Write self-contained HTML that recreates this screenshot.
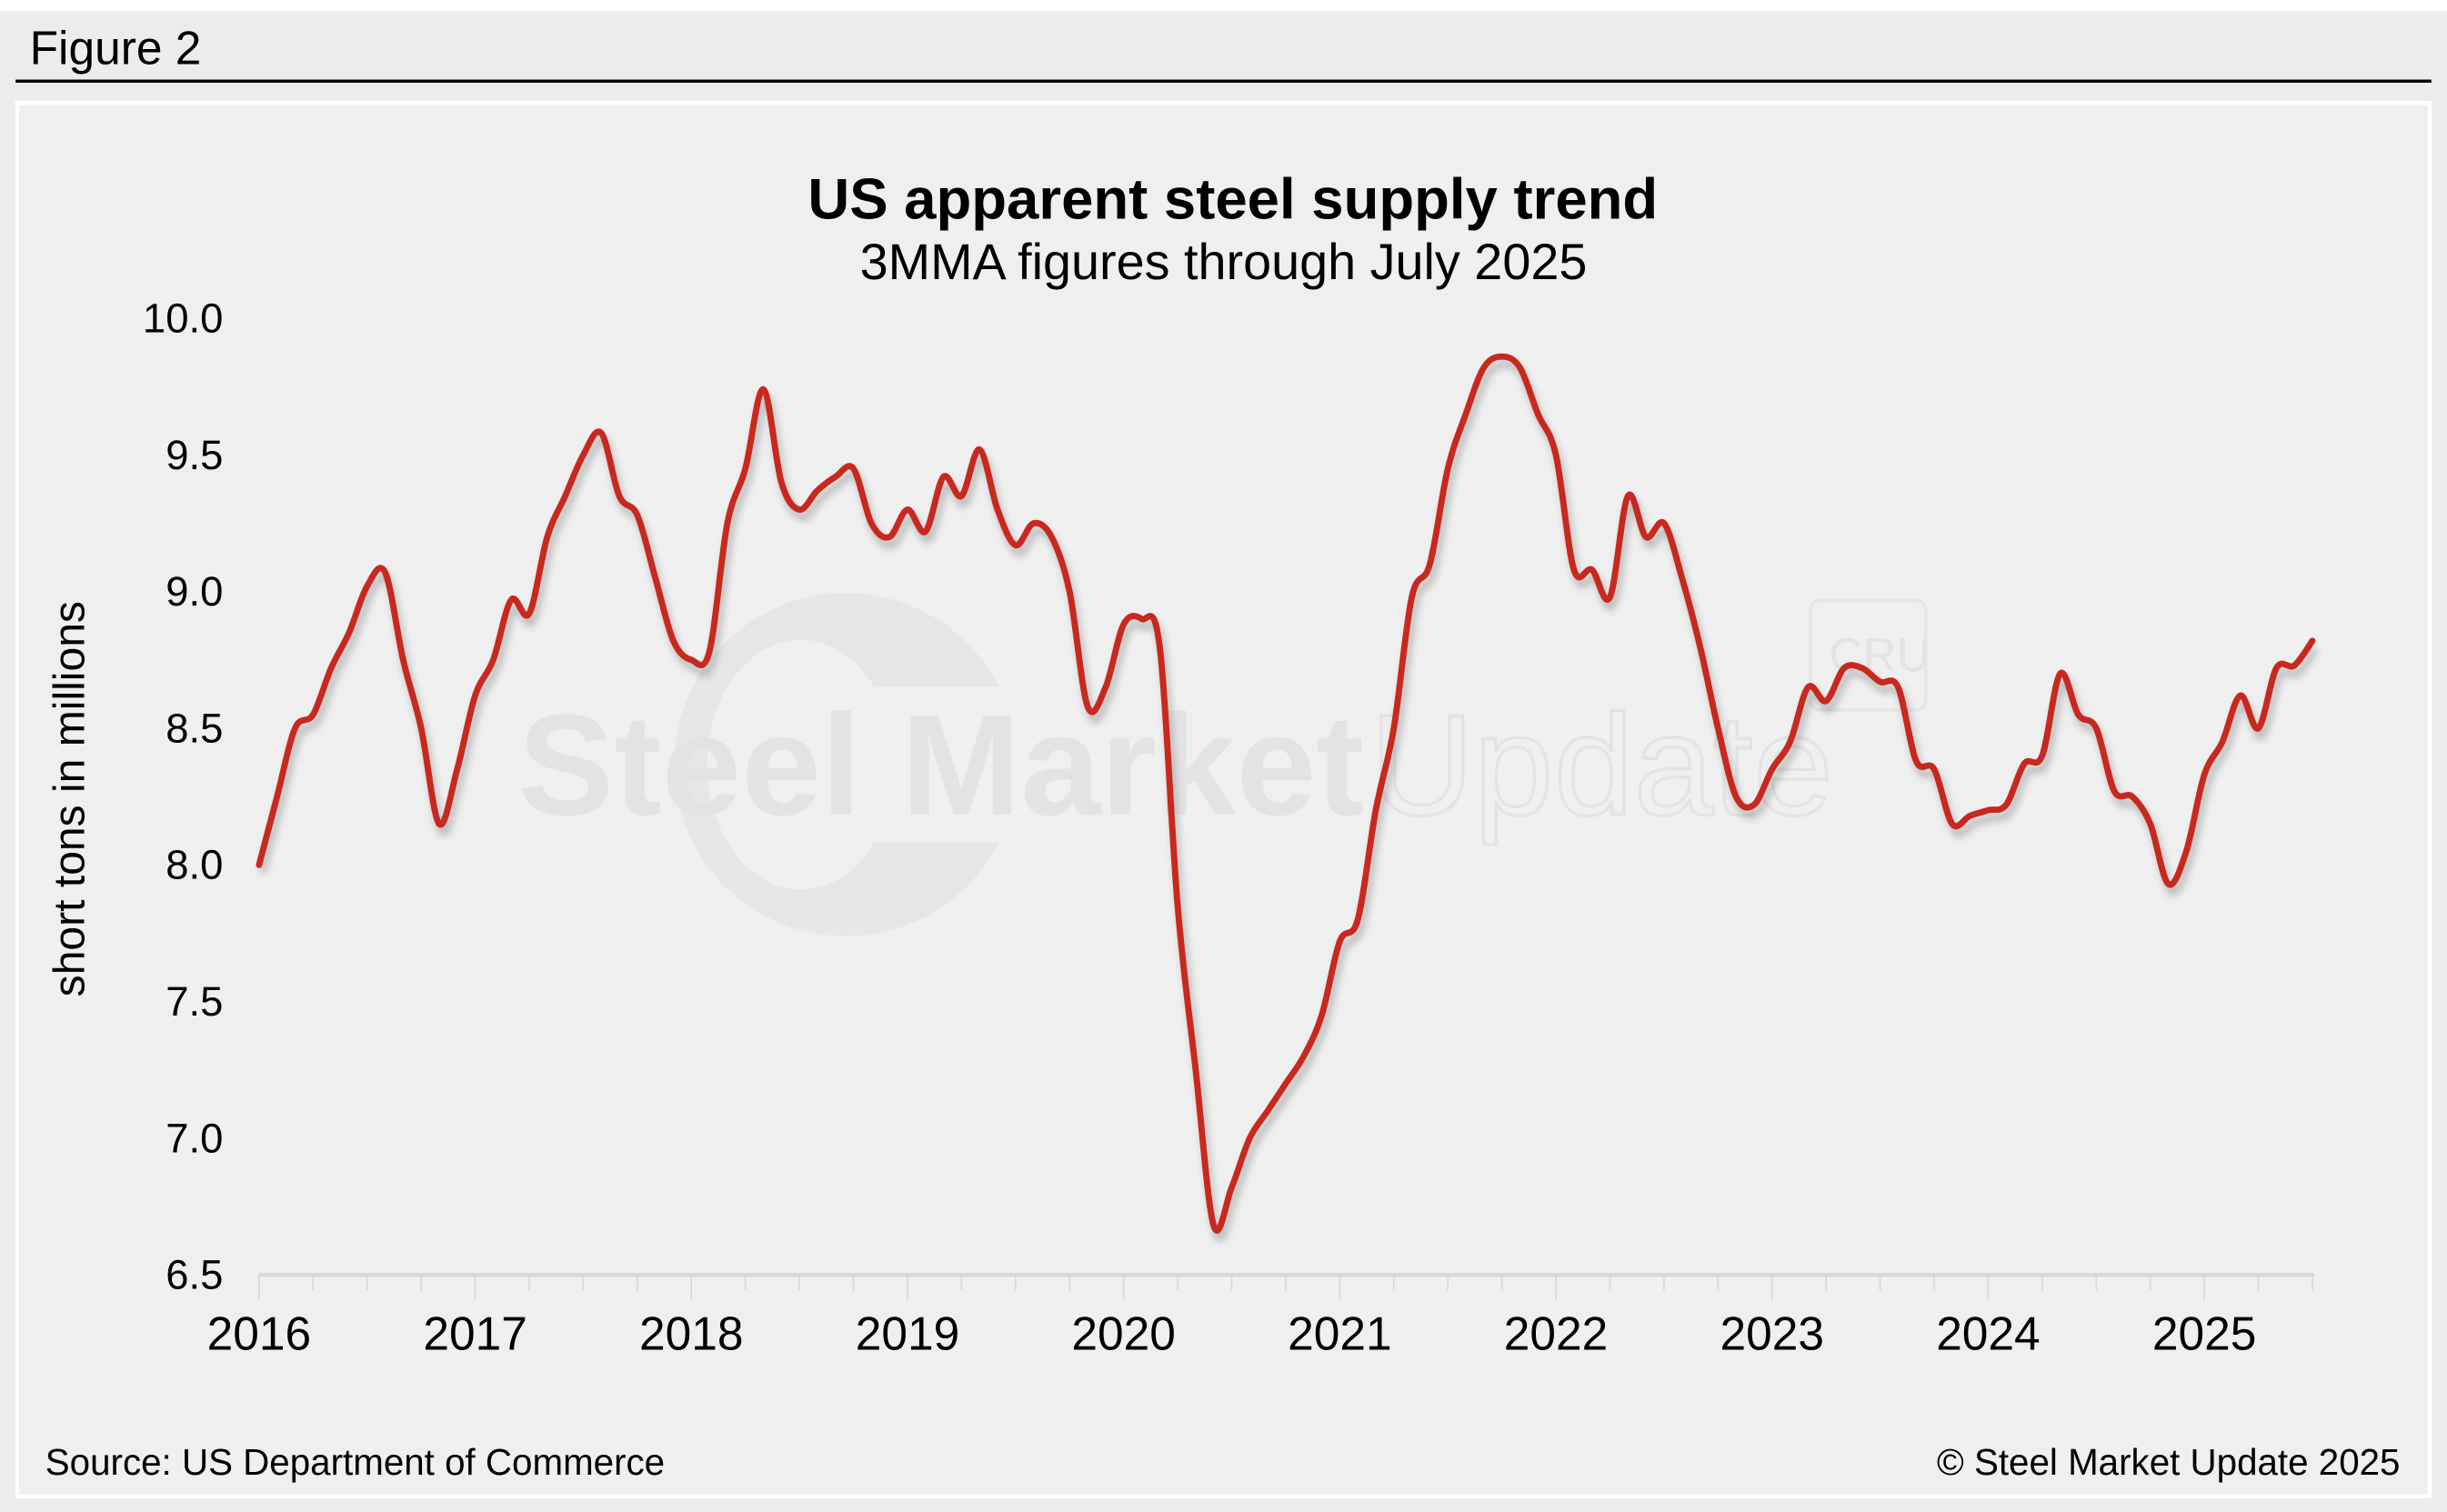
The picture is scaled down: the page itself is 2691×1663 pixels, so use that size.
<!DOCTYPE html>
<html><head><meta charset="utf-8"><style>
html,body{margin:0;padding:0;background:#fff;}
svg{display:block;}
text{font-family:"Liberation Sans",sans-serif;}
</style></head><body>
<svg id="chart" width="2691" height="1663" viewBox="0 0 1568 969" xmlns="http://www.w3.org/2000/svg">
<defs>
<filter id="sh" x="-5%" y="-5%" width="110%" height="115%"><feGaussianBlur stdDeviation="2.5"/></filter>
</defs>
<rect x="0" y="0" width="1568" height="969" fill="#fff"/>
<rect x="0" y="7" width="1568" height="962" fill="#ececec"/>
<text x="19" y="41" font-size="30" fill="#000">Figure 2</text>
<rect x="10" y="51" width="1548" height="2" fill="#000"/>
<rect x="11" y="66" width="1546" height="893" fill="#efefef" stroke="#fff" stroke-width="2.5"/>
<g opacity="0.9">
<path d="M640,440 A110,110 0 1 0 640,540 L560,540 A60,80 0 1 1 560,440 Z" fill="#e6e6e6"/>
<text x="332" y="522" font-size="92" font-weight="bold" fill="#e2e2e2">Steel Market</text>
<text x="878" y="522" font-size="92" fill="none" stroke="#e2e2e2" stroke-width="2">Update</text>
<rect x="1160" y="385" width="74" height="70" rx="6" fill="none" stroke="#e4e4e4" stroke-width="2"/>
<text x="1172" y="430" font-size="30" fill="#e2e2e2">CRU</text>
</g>
<text x="790" y="140" font-size="37" font-weight="bold" text-anchor="middle" fill="#000">US apparent steel supply trend</text>
<text x="784" y="179" font-size="32.5" text-anchor="middle" fill="#000">3MMA figures through July 2025</text>
<text transform="translate(54,512) rotate(-90)" font-size="28" text-anchor="middle" fill="#000">short tons in millions</text>
<g id="yticks"></g>
<g id="xaxis"></g>
<g id="series"></g>
<text x="29" y="945" font-size="23.5" fill="#000">Source: US Department of Commerce</text>
<text x="1538" y="945" font-size="23.5" text-anchor="end" fill="#000">© Steel Market Update 2025</text>
</svg>
<script>
const yearLabels = ["2016","2017","2018","2019","2020","2021","2022","2023","2024","2025"];
const yTickValues = [6.5,7.0,7.5,8.0,8.5,9.0,9.5,10.0];
const supply2016 = [8.0,8.25,8.5,8.55,8.72,8.85,9.02,9.07,8.75,8.5,8.15,8.35];
const supply2017 = [8.62,8.75,8.97,8.92,9.2,9.35,9.5,9.58,9.35,9.28,9.05,8.82];
const supply2018 = [8.75,8.78,9.25,9.45,9.74,9.4,9.3,9.37,9.42,9.45,9.25,9.2];
const supply2019 = [9.3,9.22,9.42,9.35,9.52,9.3,9.17,9.25,9.2,9.0,8.58,8.65];
const supply2020 = [8.88,8.9,8.8,7.85,7.25,6.68,6.82,7.0,7.1,7.2,7.3,7.45];
const supply2021 = [7.72,7.8,8.2,8.5,8.98,9.1,9.45,9.65,9.82,9.86,9.82,9.65];
const supply2022 = [9.5,9.08,9.08,8.98,9.35,9.2,9.25,9.05,8.8,8.5,8.25,8.22];
const supply2023 = [8.35,8.45,8.65,8.6,8.72,8.72,8.67,8.65,8.38,8.35,8.15,8.18];
const supply2024 = [8.2,8.22,8.37,8.4,8.7,8.55,8.5,8.27,8.25,8.15,7.93,8.05];
const supply2025 = [8.33,8.45,8.62,8.5,8.72,8.73,8.82];
const values = [].concat(supply2016,supply2017,supply2018,supply2019,supply2020,supply2021,supply2022,supply2023,supply2024,supply2025);

const NS="http://www.w3.org/2000/svg";
const x0=166, monthW=138.5/12, yTop=204, yBot=817, vMin=6.5, vMax=10.0;
function xScale(i){return x0+i*monthW;}
function yScale(v){return yBot-(v-vMin)/(vMax-vMin)*(yBot-yTop);}
function mk(tag,attrs,parent){const e=document.createElementNS(NS,tag);for(const k in attrs)e.setAttribute(k,attrs[k]);parent.appendChild(e);return e;}

const yg=document.getElementById('yticks');
yTickValues.forEach(v=>{
  const t=mk('text',{x:143,y:yScale(v)+9,'font-size':26.5,'text-anchor':'end',fill:'#000'},yg);
  t.textContent=v.toFixed(1);
  
  
});

const xg=document.getElementById('xaxis');
const axis=mk('line',{x1:166,y1:yBot,x2:1483,y2:yBot,stroke:'#d8d8d8','stroke-width':2.5},xg);


for(let q=0;q<=values.length-1;q+=3){
  const xx=xScale(q);
  const major=q%12===0;
  const tk=mk('line',{x1:xx,y1:yBot,x2:xx,y2:yBot+(major?16:10),stroke:'#d8d8d8','stroke-width':1},xg);
  
  
}
yearLabels.forEach((lab,i)=>{
  const t=mk('text',{x:xScale(i*12),y:865,'font-size':30,'text-anchor':'middle',fill:'#000'},xg);
  t.textContent=lab;
  
  
});

const pts=values.map((v,i)=>[xScale(i),yScale(v)]);
let d=`M${pts[0][0]},${pts[0][1]}`;
for(let i=0;i<pts.length-1;i++){
  const p0=pts[Math.max(0,i-1)],p1=pts[i],p2=pts[i+1],p3=pts[Math.min(pts.length-1,i+2)];
  const c1=[p1[0]+(p2[0]-p0[0])/6,p1[1]+(p2[1]-p0[1])/6];
  const c2=[p2[0]-(p3[0]-p1[0])/6,p2[1]-(p3[1]-p1[1])/6];
  d+=` C${c1[0]},${c1[1]} ${c2[0]},${c2[1]} ${p2[0]},${p2[1]}`;
}
const sg=document.getElementById('series');
const shadow=mk('path',{d:d,fill:'none',stroke:'#000','stroke-opacity':0.25,'stroke-width':4,transform:'translate(2,5)',filter:'url(#sh)'},sg);


const line=mk('path',{d:d,fill:'none',stroke:'#c8281e','stroke-width':4,'stroke-linejoin':'round','stroke-linecap':'round'},sg);


</script>
</body></html>
